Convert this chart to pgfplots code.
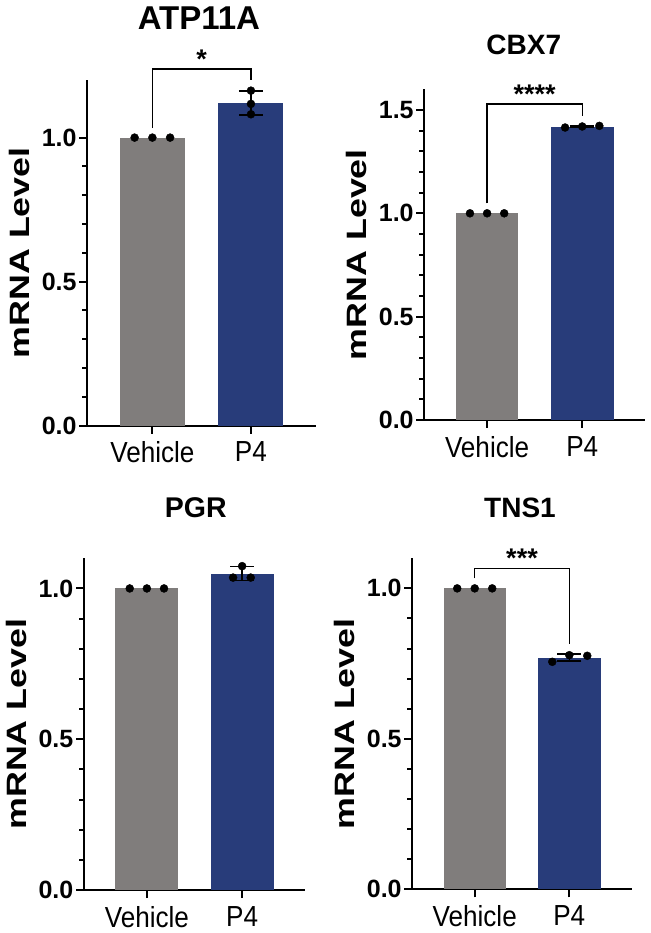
\documentclass[border=0pt]{standalone}
\usepackage{fontspec}
\setmainfont{Liberation Sans}
\newfontfamily\ylabfont{Liberation Sans}[FakeStretch=1.28]
\newfontfamily\xlabfont{Liberation Sans}[FakeStretch=0.9]
\usepackage{pgfplots}
\pgfplotsset{compat=1.18}
\definecolor{vehgray}{RGB}{128,125,124}
\definecolor{ptblue}{RGB}{40,60,122}

\pgfplotsset{
  panel/.style={
    scale only axis, enlargelimits=false, clip=false,
    axis lines*=left,
    axis line style={line width=2pt, black},
    xmin=-0.66, xmax=1.66, ymin=0,
    xtick={0,1}, xticklabels={Vehicle,P4},
    tick align=outside,
    major tick length=8pt, minor tick length=5pt,
    tick style={line width=2pt, black},
    minor y tick num=4,
    yticklabel style={font=\bfseries\fontsize{25}{25}\selectfont, inner sep=0pt, xshift=-2.5pt,
      /pgf/number format/fixed, /pgf/number format/fixed zerofill,
      /pgf/number format/precision=1, /pgf/number format/assume math mode=true},
    xticklabel style={font=\xlabfont\fontsize{29}{29}\selectfont, anchor=north, inner sep=0pt, yshift=-8pt},
    ylabel={mRNA Level},
    every axis y label/.style={at={([xshift=-68pt]rel axis cs:0,0.5)}, rotate=90, anchor=center,
      font=\ylabfont\bfseries\fontsize{28}{28}\selectfont},
  },
  vbar/.style={ybar, bar shift=0pt, bar width=0.66, fill=vehgray, draw=none},
  pbar/.style={ybar, bar shift=0pt, bar width=0.66, fill=ptblue, draw=none},
  dots/.style={only marks, mark=*, mark size=4pt, black},
  sd/.style={draw=none, mark=none, forget plot,
    error bars/.cd, y dir=both, y explicit,
    error bar style={line width=1.5pt, black},
    error mark options={rotate=90, mark size=12pt, line width=1.5pt, black}},
  bracket/.style={black, line width=1.4pt, mark=none},
}

\begin{document}
\begin{tikzpicture}
\useasboundingbox (0,0) rectangle (650pt,933pt);

% ATP11A
\begin{axis}[panel, at={(87.3pt,507.3pt)}, anchor=south west,
  width=228.7pt, height=345.7pt, ymax=1.2, ytick={0,0.5,1}]
\addplot[vbar] coordinates {(0,1)};
\addplot[pbar] coordinates {(1,1.120)};
\addplot[sd] coordinates {(1,1.120) +- (0,0.041)};
\addplot[dots] coordinates {(-0.18,1) (0,1) (0.18,1) (1,1.163) (1,1.117) (1,1.081)};
\addplot[bracket] coordinates {(0,1.033) (0,1.2375) (1,1.2375) (1,1.2)};
\node[anchor=base, font=\bfseries\fontsize{27}{27}\selectfont] at (axis cs:0.5,1.24) {*};
\node[font=\bfseries\fontsize{33}{33}\selectfont] at ([yshift=62pt]rel axis cs:0.488,1) {ATP11A};
\end{axis}

% CBX7
\begin{axis}[panel, at={(424.3pt,513pt)}, anchor=south west,
  width=220.7pt, height=330.7pt, ymax=1.6, ytick={0,0.5,1,1.5}]
\addplot[vbar] coordinates {(0,1)};
\addplot[pbar] coordinates {(1,1.419)};
\addplot[sd] coordinates {(1,1.419) +- (0,0.004)};
\addplot[dots] coordinates {(-0.18,1) (0,1) (0.18,1) (0.82,1.415) (1,1.420) (1.18,1.423)};
\addplot[bracket] coordinates {(0,1.048) (0,1.529) (1,1.529) (1,1.473)};
\node[anchor=base, font=\bfseries\fontsize{27}{27}\selectfont] at (axis cs:0.5,1.532) {****};
\node[font=\bfseries\fontsize{28}{28}\selectfont] at ([yshift=44pt]rel axis cs:0.451,1) {CBX7};
\end{axis}

% PGR
\begin{axis}[panel, at={(84pt,43pt)}, anchor=south west,
  width=221pt, height=331.7pt, ymax=1.1, ytick={0,0.5,1}]
\addplot[vbar] coordinates {(0,1)};
\addplot[pbar] coordinates {(1,1.049)};
\addplot[sd] coordinates {(1,1.049) +- (0,0.023)};
\addplot[dots] coordinates {(-0.18,1) (0,1) (0.18,1) (0.905,1.036) (1,1.074) (1.09,1.036)};
\node[font=\bfseries\fontsize{28.5}{28.5}\selectfont] at ([yshift=50.5pt]rel axis cs:0.506,1) {PGR};
\end{axis}

% TNS1
\begin{axis}[panel, at={(412.3pt,43.7pt)}, anchor=south west,
  width=219.4pt, height=331pt, ymax=1.1, ytick={0,0.5,1}]
\addplot[vbar] coordinates {(0,1)};
\addplot[pbar] coordinates {(1,0.770)};
\addplot[sd] coordinates {(1,0.770) +- (0,0.012)};
\addplot[dots] coordinates {(-0.185,1) (0,1) (0.185,1) (0.82,0.756) (1,0.778) (1.19,0.776)};
\addplot[bracket] coordinates {(0,1.033) (0,1.066) (1,1.066) (1,0.815)};
\node[anchor=base, font=\bfseries\fontsize{27}{27}\selectfont] at (axis cs:0.5,1.069) {***};
\node[font=\bfseries\fontsize{28}{28}\selectfont] at ([yshift=50.5pt]rel axis cs:0.491,1) {TNS1};
\end{axis}
\end{tikzpicture}
\end{document}
